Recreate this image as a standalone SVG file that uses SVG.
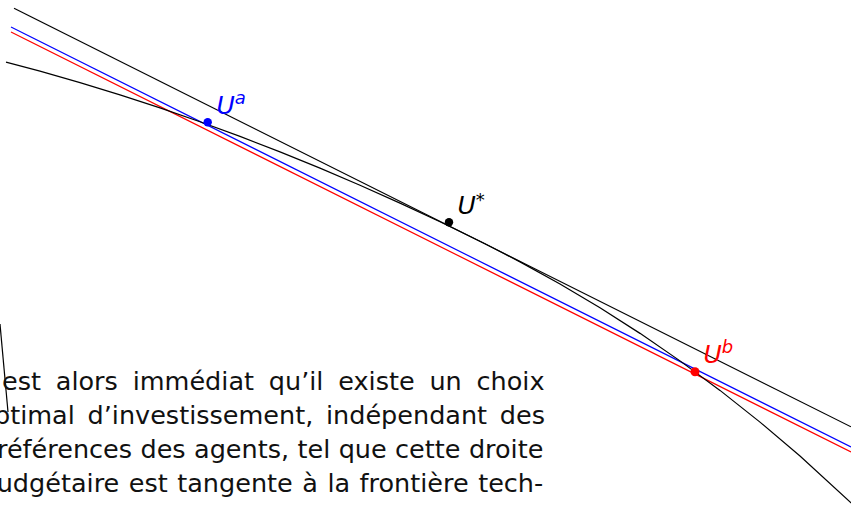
<svg xmlns="http://www.w3.org/2000/svg" width="851" height="505" viewBox="0 0 851 505">
<style>
.ln{fill:none;stroke-width:1.2}
.k{stroke:#000}
.b{stroke:#0000ff}
.r{stroke:#ff0000}
.lab{font-family:"DejaVu Sans",sans-serif;font-style:italic;font-size:25px}
.sup{font-size:18px}
.body{font-family:"DejaVu Sans",sans-serif;font-size:25.5px;fill:#111}
</style>
<rect width="851" height="505" fill="#fff"/>
<g id="connectors">
<path class="ln k" d="M14,8.3 L851,426.8"/>
<path class="ln b" d="M11,27 L851,447"/>
<path class="ln r" d="M11,32 L851,452"/>
<path class="ln k" d="M6,62.1 L40,71.18 L80,82.62 L120,94.86 L160,107.91 L200,121.76 L240,136.42 L280,151.89 L320,168.16 L360,185.24 L400,203.12 L440,221.81 L485,243.8 L520,261.87 L560,283.99 L600,307.78 L640,333.37 L680,360.87 L720,390.4 L760,422.09 L800,456.04 L851,502.8 L870,518"/>
<path class="ln k" d="M0,324 L8,412"/>
</g>
<g id="Ua">
<circle cx="207.7" cy="122.3" r="4.2" fill="#0000ff"/>
<text class="lab" x="216.5" y="114" fill="#0000ff">U<tspan class="sup" dy="-10">a</tspan></text>
</g>
<g id="Ustar">
<circle cx="449" cy="222.3" r="4.2" fill="#000"/>
<text class="lab" x="457.5" y="214" fill="#000">U<tspan class="sup" dy="-8">*</tspan></text>
</g>
<g id="Ub">
<circle cx="695" cy="371.7" r="4.5" fill="#ff0000"/>
<text class="lab" x="703.5" y="363.3" fill="#ff0000">U<tspan class="sup" dy="-10">b</tspan></text>
</g>
<g id="text">
<text class="body" x="2" y="390" word-spacing="6.7">est alors immédiat qu’il existe un choix</text>
<text class="body" x="-6" y="424" word-spacing="4.6">ptimal d’investissement, indépendant des</text>
<text class="body" x="-3" y="458" word-spacing="0.3">références des agents, tel que cette droite</text>
<text class="body" x="-3.3" y="492" word-spacing="1.4">udgétaire est tangente à la frontière tech-</text>
</g>
</svg>
